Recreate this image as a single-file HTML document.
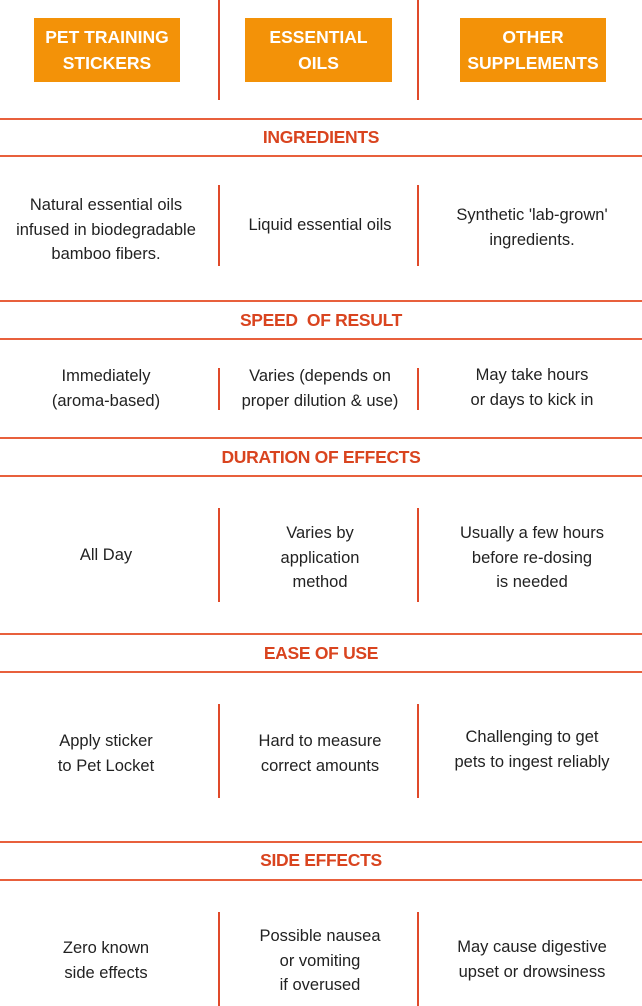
<!DOCTYPE html>
<html><head><meta charset="utf-8"><style>
body{margin:0;width:642px;height:1006px;background:#fff;position:relative;overflow:hidden;font-family:"Liberation Sans",sans-serif;}
.box{position:absolute;top:18px;height:64px;background:#F39208;color:#fff;font-weight:bold;font-size:17.5px;line-height:26px;text-align:center;display:flex;align-items:center;justify-content:center;}
.v{position:absolute;width:2px;background:#E04A2A;}
.h{position:absolute;left:0;width:642px;height:2px;background:#E8603C;}
.hd{position:absolute;left:0;width:642px;text-align:center;color:#D9441F;font-weight:bold;font-size:17.5px;line-height:20px;letter-spacing:-0.3px;}
.t{position:absolute;text-align:center;color:#222;font-size:16.5px;line-height:24.5px;}
.c1{left:0;width:212px}.c2{left:222px;width:196px}.c3{left:422px;width:220px}
</style></head><body>
<div class="box" style="left:34px;width:146px">PET TRAINING<br>STICKERS</div>
<div class="box" style="left:245px;width:147px">ESSENTIAL<br>OILS</div>
<div class="box" style="left:460px;width:146px">OTHER<br>SUPPLEMENTS</div>
<div class="v" style="left:218px;top:0;height:100px"></div>
<div class="v" style="left:417px;top:0;height:100px"></div>

<div class="h" style="top:118px"></div><div class="h" style="top:155px"></div>
<div class="hd" style="top:127px">INGREDIENTS</div>
<div class="v" style="left:218px;top:185px;height:81px"></div>
<div class="v" style="left:417px;top:185px;height:81px"></div>
<div class="t c1" style="top:193px">Natural essential oils<br>infused in biodegradable<br>bamboo fibers.</div>
<div class="t c2" style="top:213px">Liquid essential oils</div>
<div class="t c3" style="top:203px">Synthetic 'lab-grown'<br>ingredients.</div>

<div class="h" style="top:300px"></div><div class="h" style="top:338px"></div>
<div class="hd" style="top:310px">SPEED&nbsp; OF RESULT</div>
<div class="v" style="left:218px;top:368px;height:42px"></div>
<div class="v" style="left:417px;top:368px;height:42px"></div>
<div class="t c1" style="top:364px">Immediately<br>(aroma-based)</div>
<div class="t c2" style="top:364px">Varies (depends on<br>proper dilution &amp; use)</div>
<div class="t c3" style="top:363px">May take hours<br>or days to kick in</div>

<div class="h" style="top:437px"></div><div class="h" style="top:475px"></div>
<div class="hd" style="top:447px">DURATION OF EFFECTS</div>
<div class="v" style="left:218px;top:508px;height:94px"></div>
<div class="v" style="left:417px;top:508px;height:94px"></div>
<div class="t c1" style="top:543px">All Day</div>
<div class="t c2" style="top:521px">Varies by<br>application<br>method</div>
<div class="t c3" style="top:521px">Usually a few hours<br>before re-dosing<br>is needed</div>

<div class="h" style="top:633px"></div><div class="h" style="top:671px"></div>
<div class="hd" style="top:643px">EASE OF USE</div>
<div class="v" style="left:218px;top:704px;height:94px"></div>
<div class="v" style="left:417px;top:704px;height:94px"></div>
<div class="t c1" style="top:729px">Apply sticker<br>to Pet Locket</div>
<div class="t c2" style="top:729px">Hard to measure<br>correct amounts</div>
<div class="t c3" style="top:725px">Challenging to get<br>pets to ingest reliably</div>

<div class="h" style="top:841px"></div><div class="h" style="top:879px"></div>
<div class="hd" style="top:850px">SIDE EFFECTS</div>
<div class="v" style="left:218px;top:912px;height:94px"></div>
<div class="v" style="left:417px;top:912px;height:94px"></div>
<div class="t c1" style="top:936px">Zero known<br>side effects</div>
<div class="t c2" style="top:924px">Possible nausea<br>or vomiting<br>if overused</div>
<div class="t c3" style="top:935px">May cause digestive<br>upset or drowsiness</div>
</body></html>
